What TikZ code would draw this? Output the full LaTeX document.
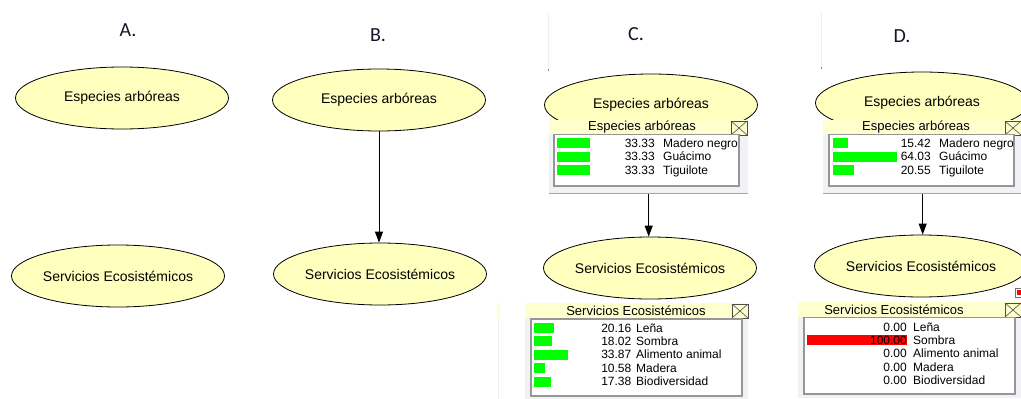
\documentclass[tikz,border=0pt]{standalone}
\usepackage{fontspec}
\setmainfont{Liberation Sans}
\newfontfamily\labelfont{Carlito}
\usetikzlibrary{shapes.geometric,arrows.meta}

\definecolor{nodefill}{RGB}{255,255,190}
\definecolor{bandfill}{RGB}{255,255,205}
\definecolor{panelgray}{RGB}{241,242,245}
\definecolor{paneledge}{RGB}{165,165,170}
\definecolor{innerrule}{RGB}{150,150,150}
\definecolor{bargreen}{RGB}{0,255,0}
\definecolor{barred}{RGB}{255,0,0}
\definecolor{labelcol}{RGB}{20,20,40}
\definecolor{frameline}{RGB}{238,238,238}

\begin{document}
\begin{tikzpicture}[x=1pt,y=-1pt,
  bnode/.style={ellipse, draw=black, line width=0.8pt, fill=nodefill,
    minimum width=213pt, minimum height=62pt, inner sep=0pt,
    font=\fontsize{14}{16}\selectfont},
  caselabel/.style={font=\labelfont\fontsize{20}{22}\selectfont, text=labelcol},
  link/.style={-{Triangle[length=11pt,width=8pt]}, line width=0.9pt},
  rowtxt/.style={font=\fontsize{12}{13}\selectfont, inner sep=0pt},
  montitle/.style={font=\fontsize{13}{14}\selectfont, inner sep=0pt},
  monpanel/.style={anchor=north west, inner sep=0pt, fill=panelgray},
  band/.style={fill=bandfill},
  innerbox/.style={fill=white, draw=innerrule, line width=1.1pt},
  closebox/.style={draw=black!70, line width=0.6pt, fill=bandfill},
]
\useasboundingbox (0,0) rectangle (1021,399);
\fill[white] (0,0) rectangle (1021,399);
\clip (0,0) rectangle (1021,399);

% case labels
\node[caselabel] (labA) at (128,30.5) {A.};
\node[caselabel] (labB) at (378,35) {B.};
\node[caselabel] (labC) at (636,34.5) {C.};
\node[caselabel] (labD) at (902,36) {D.};

% faint window edges
\draw[frameline, line width=1pt] (548,13) -- (548,69);
\fill[black!45] (547.5,69) rectangle (549,71);
\draw[frameline, line width=1pt] (821,12) -- (821,67);
\fill[black!45] (820.5,67) rectangle (822,69);
\fill[bandfill] (497,303) rectangle (500,318);
\draw[frameline, line width=1pt] (498.5,318) -- (498.5,399);

% A: two unlinked nodes
\node[bnode] (aEsp) at (122,98) {Especies arbóreas};
\node[bnode] (aSer) at (118,276) {Servicios Ecosistémicos};

% B: linked nodes
\node[bnode] (bEsp) at (379,100) {Especies arbóreas};
\node[bnode] (bSer) at (380,274) {Servicios Ecosistémicos};
\draw[link] (bEsp.south) -- (bEsp.south |- bSer.north);

% C and D: nodes with monitors
\node[bnode] (cEsp) at (651,105) {Especies arbóreas};
\node[bnode] (cSer) at (650,268) {Servicios Ecosistémicos};
\node[bnode] (dEsp) at (922,103) {Especies arbóreas};
\node[bnode] (dSer) at (921,266) {Servicios Ecosistémicos};

% species monitor, C
\begin{scope}[shift={(549,120)}]
  \node[monpanel, minimum width=199pt, minimum height=74pt] (cEspMon) at (0,0) {};
  \fill[band] (0,0) rectangle (199,14);
  \node[montitle] (cEspTitle) at (93,7.5) {Especies arbóreas};
  \draw[closebox] (182,1) rectangle (198,15);
  \draw[black!70, line width=0.6pt] (182,1) -- (198,15) (182,15) -- (198,1);
  \draw[innerbox] (5,14.6) rectangle (190,66);
  \draw[paneledge, line width=1.2pt] (0,73.4) -- (199,73.4);
  \foreach \v/\lab/\yy in {33.33/Madero negro/23, 33.33/Guácimo/36.5, 33.33/Tiguilote/50} {
    \fill[bargreen] (8,\yy-5) rectangle ++(\v,10);
    \node[rowtxt, anchor=base east] at (106,\yy+4.3) {\v};
    \node[rowtxt, anchor=base west] at (114,\yy+4.3) {\lab};
  }
\end{scope}

% species monitor, D
\begin{scope}[shift={(823,120)}]
  \node[monpanel, minimum width=199pt, minimum height=74pt] (dEspMon) at (0,0) {};
  \fill[band] (0,0) rectangle (199,14);
  \node[montitle] (dEspTitle) at (93,7.5) {Especies arbóreas};
  \draw[closebox] (182,1) rectangle (198,15);
  \draw[black!70, line width=0.6pt] (182,1) -- (198,15) (182,15) -- (198,1);
  \draw[innerbox] (6,14.6) rectangle (191,66);
  \draw[paneledge, line width=1.2pt] (0,73.4) -- (199,73.4);
  \foreach \v/\lab/\yy in {15.42/Madero negro/23, 64.03/Guácimo/36.5, 20.55/Tiguilote/50} {
    \fill[bargreen] (10,\yy-5) rectangle ++(\v,10);
    \node[rowtxt, anchor=base east] at (108,\yy+4.3) {\v};
    \node[rowtxt, anchor=base west] at (116,\yy+4.3) {\lab};
  }
\end{scope}

% services monitor, C
\begin{scope}[shift={(525,303)}]
  \node[monpanel, minimum width=223pt, minimum height=96pt] (cSerMon) at (0,0) {};
  \fill[band] (0,0) rectangle (223,15);
  \node[montitle] (cSerTitle) at (111,8) {Servicios Ecosistémicos};
  \draw[closebox] (207,1) rectangle (223,15);
  \draw[black!70, line width=0.6pt] (207,1) -- (223,15) (207,15) -- (223,1);
  \draw[innerbox] (6,16) rectangle (217,93);
  \foreach \v/\lab/\yy in {20.16/Leña/25, 18.02/Sombra/38, 33.87/Alimento animal/51.5,
                           10.58/Madera/65, 17.38/Biodiversidad/78.5} {
    \fill[bargreen] (9,\yy-5) rectangle ++(\v,10);
    \node[rowtxt, anchor=base east] at (106.5,\yy+4.3) {\v};
    \node[rowtxt, anchor=base west] at (111,\yy+4.3) {\lab};
  }
\end{scope}

% services monitor, D
\begin{scope}[shift={(798,302)}]
  \node[monpanel, minimum width=223pt, minimum height=96pt] (dSerMon) at (0,0) {};
  \fill[band] (0,0) rectangle (223,15);
  \node[montitle] (dSerTitle) at (96,8) {Servicios Ecosistémicos};
  \draw[closebox] (207,1) rectangle (223,15);
  \draw[black!70, line width=0.6pt] (207,1) -- (223,15) (207,15) -- (223,1);
  \draw[innerbox] (6,15.6) rectangle (217,92);
  \fill[barred] (9,33) rectangle ++(100,9.5);
  \foreach \v/\lab/\yy in {0.00/Leña/25.5, 100.00/Sombra/38.5, 0.00/Alimento animal/51.5,
                           0.00/Madera/65, 0.00/Biodiversidad/78.5} {
    \node[rowtxt, anchor=base east] at (109,\yy+4.3) {\v};
    \node[rowtxt, anchor=base west] at (115,\yy+4.3) {\lab};
  }
\end{scope}

% small state marker at the right edge of D
\draw[black!55, line width=0.6pt, fill=white] (1015,288) rectangle (1024,297);
\fill[barred] (1017,290) rectangle (1024,295);

% links in C and D start at the monitor windows
\draw[link] (cEspMon.south) -- (cEspMon.south |- cSer.north);
\draw[link] (dEspMon.south) -- (dEspMon.south |- dSer.north);
\end{tikzpicture}
\end{document}
